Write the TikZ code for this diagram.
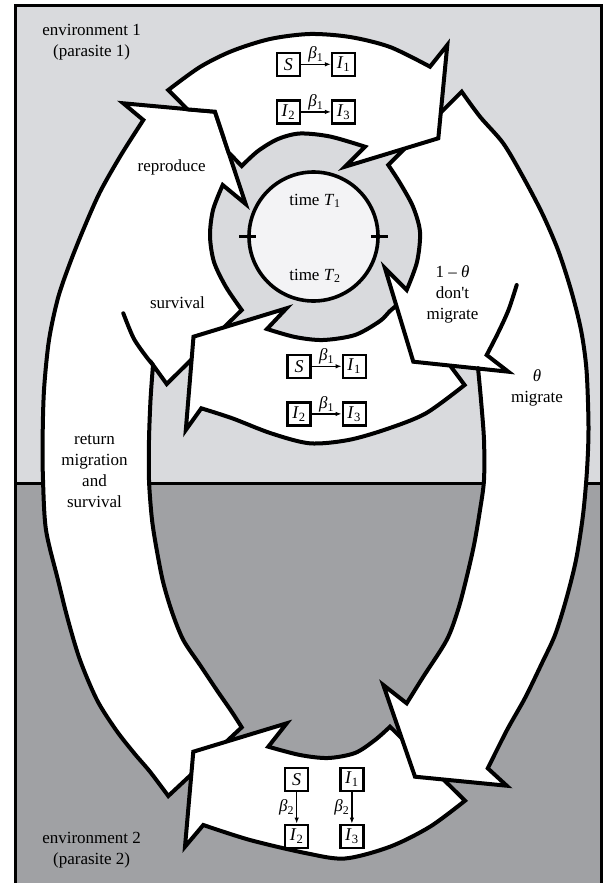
\documentclass[tikz,border=0pt]{standalone}
\usepackage{fontspec}
\setmainfont{Liberation Serif}
\usetikzlibrary{positioning, arrows.meta}
\definecolor{envone}{RGB}{217,218,221}
\definecolor{envtwo}{RGB}{160,161,164}
\definecolor{clockface}{RGB}{243,243,245}

\begin{document}
\begin{tikzpicture}[x=1pt, y=-1pt, node distance=30pt, font=\fontsize{17}{21}\selectfont,
    band/.style={draw, fill=white, line width=4pt},
    rim/.style={draw, line width=4pt, line cap=round},
    box/.style={draw, rectangle, line width=2.2pt, minimum size=23pt, inner sep=0pt, font=\fontsize{18}{18}\selectfont},
    rate/.style={-{Latex[length=6pt, width=4.5pt]}, line width=1.4pt},
    lbl/.style={align=center}]
    \useasboundingbox (0,0) rectangle (606,883);

    % the two environments
    \fill[envone] (15,6) rectangle (601.5,483);
    \fill[envtwo] (15,483) rectangle (601.5,883);
    \draw[line width=3pt] (15,883) -- (15,6) -- (601.5,6) -- (601.5,883);
    \draw[line width=3pt] (15,483) -- (601.5,483);

    % return migration, survival and reproduce
    \path[band] (168.3,796) -- plot[smooth] coordinates {(168.3,796) (150,771.7) (134,753) (116,730) (97,700) (80,660) (68,620) (58,580) (46,530) (43,480) (42.6,440) (44,390) (49,340) (58,298) (70,263) (84,228) (100,192) (121,155) (143.3,120)}
        -- (123.3,103.3) -- (215,111.7) -- (245.7,204) -- (222.7,185)
        -- plot[smooth] coordinates {(222.7,185) (213,210) (210,236) (214,262) (226,287) (241.7,310)}
        -- (166.7,384) -- (153,365)
        -- plot[smooth] coordinates {(153,365) (150.5,400) (149,440) (149,480) (151.5,515) (155,540) (162.6,580) (172,612) (183.3,640) (200,665) (216.7,690) (231.7,711.7) (241.7,727.3)} -- cycle;
    \draw[rim] plot[smooth] coordinates {(123.3,313.3) (133.5,338) (145,355) (153,365)};

    % infection at time T2
    \path[band] (464.6,385) -- plot[smooth] coordinates {(464.6,385) (425.9,413.3) (387,429) (348.4,440) (309.7,443.3) (271,433.3) (232.3,418.3) (201.3,408.3)}
        -- (185.8,430) -- (193.5,336.7) -- (286.5,308.3) -- (267,329)
        -- plot[smooth] coordinates {(267,329) (295,337) (323,340) (355,335) (380,321) (390,311) (402,301)} -- cycle;

    % infection in environment 2
    \path[band] (465,800.7) -- plot[smooth] coordinates {(465,800.7) (430,826.7) (390,846.7) (345,858.5) (306.7,853.3) (250,840) (203.3,825)}
        -- (185,846.7) -- (193.3,751.7) -- (286.7,723.3) -- (268.3,746.7)
        -- plot[smooth] coordinates {(268.3,746.7) (300,755) (328,758) (355,753) (375,740) (390,726.7)} -- cycle;

    % migrate / don't migrate
    \fill[white] (461.7,91.7) -- plot[smooth] coordinates {(461.7,91.7) (480,116.7) (503,143) (522,175) (542,213) (558,250) (571,290) (581,330) (586.5,370) (588.5,427) (587,470) (583,515) (576,560) (566,600) (555,635) (542,663) (525,698) (507,730) (487.8,768.3)}
        -- (506.7,785.7) -- (415,776.7) -- (383.3,685) -- (406.7,703.3)
        -- plot[smooth] coordinates {(406.7,703.3) (423.3,676.7) (446.7,640) (458,610) (466,580) (474,545) (480,510) (484,480) (484,440) (481,400) (478,368)}
        -- (413.3,361.7) -- (385,268.3) -- (406.7,290)
        -- plot[smooth] coordinates {(406.7,290) (417,262) (420,232) (413,206.7) (400,183) (388.3,165)} -- cycle;
    \draw[rim] plot[smooth] coordinates {(516.7,285) (508.5,310) (498,333) (486.7,355)}
        -- (508.3,371.7) -- (413.3,361.7) -- (385,268.3) -- (406.7,290)
        -- plot[smooth] coordinates {(406.7,290) (417,262) (420,232) (413,206.7) (400,183) (388.3,165)}
        -- (461.7,91.7)
        -- plot[smooth] coordinates {(461.7,91.7) (480,116.7) (503,143) (522,175) (542,213) (558,250) (571,290) (581,330) (586.5,370) (588.5,427) (587,470) (583,515) (576,560) (566,600) (555,635) (542,663) (525,698) (507,730) (487.8,768.3)}
        -- (506.7,785.7) -- (415,776.7) -- (383.3,685) -- (406.7,703.3)
        -- plot[smooth] coordinates {(406.7,703.3) (423.3,676.7) (446.7,640) (458,610) (466,580) (474,545) (480,510) (484,480) (484,440) (481,400) (478,368)};

    % infection at time T1
    \path[band] (168.3,90) -- plot[smooth] coordinates {(168.3,90) (200,67) (232,51) (270,39) (310,34) (350,37) (390,47) (430,66.7)}
        -- (447.3,45) -- (438.3,138.3) -- (345,166.7) -- (365,146.7)
        -- plot[smooth] coordinates {(365,146.7) (330,136.5) (300,133.5) (278,139) (258,151) (241.7,166)}
        -- (228.5,152.4) -- (215,111.7) -- (187.5,109.4) -- cycle;

    % the year
    \node[draw, circle, line width=3.6pt, fill=clockface, minimum size=129pt] (year) at (313.5,236.5) {};
    \draw[line width=3.8pt] ([xshift=-8pt]year.west) -- ([xshift=9pt]year.west);
    \draw[line width=3.8pt] ([xshift=-9pt]year.east) -- ([xshift=8pt]year.east);
    \node (tone) at (315,201) {time \textit{T}\textsubscript{1}};
    \node (ttwo) at (315,276) {time \textit{T}\textsubscript{2}};

    \node[lbl] (envone) at (91.6,42) {environment 1\\(parasite 1)};
    \node[lbl] (envtwo) at (91.6,850) {environment 2\\(parasite 2)};
    \node (repro) at (171.7,167) {reproduce};
    \node (surv) at (177.5,303) {survival};
    \node[lbl] (stay) at (452.5,294) {1 – \textit{θ}\\don\textquotesingle t\\migrate};
    \node[lbl] (move) at (537,387.5) {\textit{θ}\\migrate};
    \node[lbl] (back) at (94.5,471.5) {return\\migration\\and\\survival};

    % compartments at T1
    \node[box] (ts) at (288.3,64.3) {\textit{S}};
    \node[box, right=of ts] (tia) {\textit{I}\textsubscript{1}};
    \node[box, below=22.4pt of ts] (tib) {\textit{I}\textsubscript{2}};
    \node[box, right=of tib] (tic) {\textit{I}\textsubscript{3}};
    \draw[rate] (ts) -- node[above, inner sep=1pt] {\textit{β}\textsubscript{1}} (tia);
    \draw[rate] (tib) -- node[above, inner sep=1pt] {\textit{β}\textsubscript{1}} (tic);

    % compartments at T2
    \node[box] (ms) at (299,366.3) {\textit{S}};
    \node[box, right=of ms] (mia) {\textit{I}\textsubscript{1}};
    \node[box, below=22.4pt of ms] (mib) {\textit{I}\textsubscript{2}};
    \node[box, right=of mib] (mic) {\textit{I}\textsubscript{3}};
    \draw[rate] (ms) -- node[above, inner sep=1pt] {\textit{β}\textsubscript{1}} (mia);
    \draw[rate] (mib) -- node[above, inner sep=1pt] {\textit{β}\textsubscript{1}} (mic);

    % compartments in environment 2
    \node[box] (bs) at (296.7,779.3) {\textit{S}};
    \node[box, right=of bs] (bia) {\textit{I}\textsubscript{1}};
    \node[box, below=31.7pt of bs] (bib) {\textit{I}\textsubscript{2}};
    \node[box, below=31.7pt of bia] (bic) {\textit{I}\textsubscript{3}};
    \draw[rate] (bs) -- node[left, inner sep=2pt] {\textit{β}\textsubscript{2}} (bib);
    \draw[rate] (bia) -- node[left, inner sep=2pt] {\textit{β}\textsubscript{2}} (bic);
\end{tikzpicture}
\end{document}
